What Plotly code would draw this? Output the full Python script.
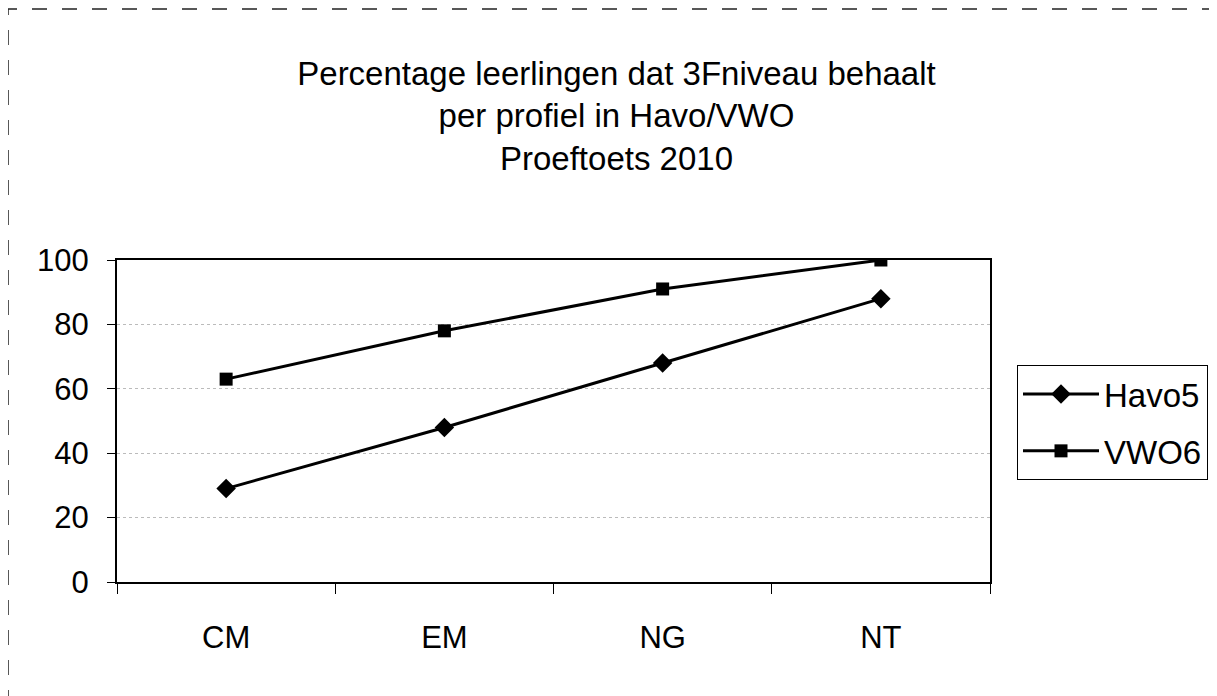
import plotly.graph_objects as go

categories = ["CM", "EM", "NG", "NT"]
havo5 = [29, 48, 68, 88]
vwo6 = [63, 78, 91, 100]
y_ticks = [0, 20, 40, 60, 80, 100]

title_lines = ["Percentage leerlingen dat 3Fniveau behaalt", "per profiel in Havo/VWO", "Proeftoets 2010"]

FONT = "Liberation Sans, Arial, sans-serif"

# plot area in figure pixels
L, T, PW, PH = 109, 252, 873, 322
W, H = 1217, 696

fig = go.Figure()
fig.add_trace(go.Scatter(
    x=categories, y=havo5, name="Havo5", mode="lines+markers",
    line=dict(color="black", width=3),
    marker=dict(symbol="diamond", size=15, color="black"),
    legendgroup="a",
))
fig.add_trace(go.Scatter(
    x=categories, y=vwo6, name="VWO6", mode="lines+markers",
    line=dict(color="black", width=3),
    marker=dict(symbol="square", size=13, color="black"),
    legendgroup="b",
))

fig.update_layout(
    width=W, height=H,
    margin=dict(l=L, r=W - L - PW, t=T, b=H - T - PH),
    paper_bgcolor="white", plot_bgcolor="white",
    font=dict(family=FONT, size=30, color="black"),
    title=dict(text="<br>".join(title_lines), x=0.5, xanchor="center",
               y=0.89, yanchor="top", font=dict(size=33, family=FONT)),
    showlegend=True,
    legend=dict(x=(1009 - L) / PW, xanchor="left", y=(T + PH - 357) / PH, yanchor="top",
                bordercolor="black", borderwidth=1, bgcolor="white",
                font=dict(size=33), tracegroupgap=11, itemwidth=76),
)
fig.update_xaxes(
    type="category", range=[-0.5, 3.5], tickson="boundaries",
    ticks="outside", ticklen=10, tickcolor="black", tickwidth=1,
    showline=True, linecolor="black", linewidth=2, mirror=True,
    showgrid=False, tickfont=dict(size=31), ticklabelstandoff=27,
)
fig.update_yaxes(
    range=[0, 100], tickvals=y_ticks, ticks="outside", ticklen=8,
    tickcolor="black", showline=True, linecolor="black", linewidth=2, mirror=True,
    showgrid=True, gridcolor="#bbbbbb", griddash="dot", gridwidth=1,
    zeroline=False, tickfont=dict(size=31), ticklabelstandoff=12,
)

fig.add_shape(type="rect", xref="paper", yref="paper",
              x0=(0 - L) / PW, x1=(1205 - L) / PW,
              y0=(T + PH - 720) / PH, y1=(T + PH - 1) / PH,
              line=dict(color="#222222", width=1.5, dash="longdash"), layer="below")

fig.write_html("out.html")
